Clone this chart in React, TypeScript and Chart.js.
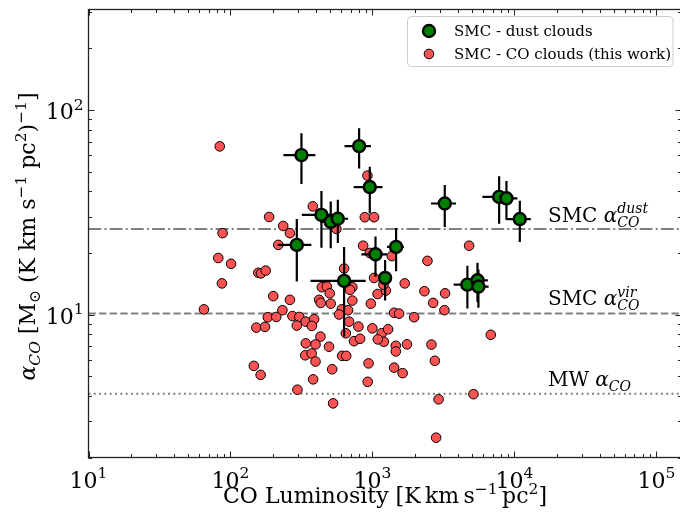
import React, { useEffect, useRef } from 'react';
import { Chart, registerables } from 'chart.js';

Chart.register(...registerables);

// ---- CO clouds (this work): CO luminosity [K km s^-1 pc^2] and alpha_CO
const coLuminosity = [
  84, 921, 380, 187, 883, 1026, 235, 262, 88, 557,
  217, 859, 82, 101, 157, 164, 177, 87, 631, 957,
  1368, 2438, 1687, 2321, 1026, 1086, 1242, 1194, 200, 262,
  421, 440, 477, 500, 721, 694, 721, 432, 508, 608,
  582, 673, 973, 1420, 1539, 1964, 2673, 3245, 3210, 998,
  1162, 1202, 1288, 1090, 1459, 1459, 1750, 2601, 2748, 430,
  339, 397, 494, 336, 373, 397, 611, 653, 938, 1420,
  1630, 520, 382, 925, 146, 163, 296, 528, 2920, 2807,
  65, 232, 183, 210, 152, 175, 273, 305, 339, 388,
  293, 374, 684, 649, 796, 741, 818, 4791, 6808, 5139,
];
const coAlpha = [
  66.4, 47.8, 33.8, 30.0, 29.9, 29.9, 27.1, 25.0, 25.0, 26.2,
  21.9, 21.7, 18.9, 17.7, 16.0, 15.9, 16.4, 14.2, 16.8, 20.0,
  19.3, 18.3, 14.2, 13.0, 15.1, 12.6, 13.1, 14.0, 12.3, 11.8,
  11.8, 13.6, 13.7, 12.7, 13.6, 13.2, 11.7, 11.4, 11.3, 10.6,
  10.0, 10.5, 11.3, 10.2, 10.1, 9.70, 11.4, 12.7, 10.5, 8.56,
  8.10, 7.36, 8.47, 7.56, 7.03, 6.60, 7.15, 7.13, 5.94, 7.80,
  7.23, 7.14, 6.96, 6.32, 6.45, 5.89, 6.28, 6.28, 5.77, 5.50,
  5.17, 5.40, 4.82, 4.69, 5.61, 5.07, 4.29, 3.68, 3.85, 2.50,
  10.6, 10.5, 9.70, 9.73, 8.63, 8.70, 9.83, 9.73, 9.23, 9.49,
  8.83, 8.80, 9.23, 8.10, 8.73, 7.41, 7.61, 21.7, 7.96, 4.08,
];

// ---- SMC dust clouds with (linear, symmetric) errors
const dustLuminosity = [316, 805, 957, 437, 508, 570, 293, 1050, 1466, 1227, 631, 3228, 7796, 8776, 10900, 4659, 5487, 5571];
const dustLuminosityErr = [80, 170, 220, 119, 80, 103, 78, 215, 200, 130, 265, 645, 1850, 1700, 2130, 930, 1000, 1000];
const dustAlpha = [60.2, 66.6, 42.0, 30.7, 28.4, 29.4, 21.9, 19.7, 21.4, 15.1, 14.6, 34.9, 37.6, 37.0, 29.3, 14.0, 14.7, 13.7];
const dustAlphaErr = [16.7, 14.8, 10.8, 9.5, 7.3, 7.0, 7.4, 4.4, 5.1, 3.4, 6.8, 8.1, 9.8, 8.0, 6.7, 3.3, 3.2, 2.9];

// ---- reference alpha_CO levels: SMC dust, SMC virial, Milky Way
const refAlpha = [26.2, 10.12, 4.1];
const refLabelAlpha = [28.4, 11.1, 4.45];
const refLabelLum = 1.72e4;
const refLabelName = ['SMC ', 'SMC ', 'MW '];
const refLabelSup = ['dust', 'vir', ''];

const legendLabels = ['SMC - dust clouds', 'SMC - CO clouds (this work)'];
const xTickValues = [10, 100, 1000, 10000, 100000];
const yTickValues = [10, 100];
const X_MIN = 10;
const X_MAX = 1.5e5;
const Y_MIN = 2;
const Y_MAX = 310;

const SERIF = "'DejaVu Serif', serif";
const RED = '#ff5252';
const GREEN = '#008000';
const GREY = '#808080';

type Seg = { t: string; size: number; italic?: boolean; dy?: number; stack?: Seg };

function segFont(s: Seg) {
  return `${s.italic ? 'italic ' : ''}${s.size}px ${SERIF}`;
}
function segsWidth(ctx: CanvasRenderingContext2D, segs: Seg[]) {
  let w = 0;
  for (const s of segs) {
    ctx.font = segFont(s);
    let sw = ctx.measureText(s.t).width;
    if (s.stack) {
      ctx.font = segFont(s.stack);
      sw = Math.max(sw, ctx.measureText(s.stack.t).width);
    }
    w += sw;
  }
  return w;
}
function drawRich(ctx: CanvasRenderingContext2D, x: number, y: number, segs: Seg[], align: 'left' | 'center' | 'right') {
  const w = segsWidth(ctx, segs);
  let cx = align === 'center' ? x - w / 2 : align === 'right' ? x - w : x;
  ctx.textAlign = 'left';
  ctx.textBaseline = 'alphabetic';
  for (const s of segs) {
    ctx.font = segFont(s);
    ctx.fillText(s.t, cx, y + (s.dy || 0));
    let sw = ctx.measureText(s.t).width;
    if (s.stack) {
      ctx.font = segFont(s.stack);
      ctx.fillText(s.stack.t, cx, y + (s.stack.dy || 0));
      sw = Math.max(sw, ctx.measureText(s.stack.t).width);
    }
    cx += sw;
  }
}
function powLabel(v: number): Seg[] {
  return [
    { t: '10', size: 22 },
    { t: String(Math.round(Math.log10(v))), size: 15.5, dy: -9.5 },
  ];
}

const errorBarPlugin = {
  id: 'errorBars',
  beforeDatasetDraw(chart: any, args: any) {
    if (args.index !== 0) return;
    const { ctx, chartArea: a, scales } = chart;
    const xs = scales.x;
    const ys = scales.y;
    ctx.save();
    ctx.beginPath();
    ctx.rect(a.left, a.top, a.right - a.left, a.bottom - a.top);
    ctx.clip();
    ctx.strokeStyle = '#000';
    ctx.lineWidth = 2.2;
    ctx.lineCap = 'butt';
    for (let i = 0; i < dustLuminosity.length; i++) {
      const px = xs.getPixelForValue(dustLuminosity[i]);
      const py = ys.getPixelForValue(dustAlpha[i]);
      const x0 = xs.getPixelForValue(dustLuminosity[i] - dustLuminosityErr[i]);
      const x1 = xs.getPixelForValue(dustLuminosity[i] + dustLuminosityErr[i]);
      const y0 = ys.getPixelForValue(dustAlpha[i] - dustAlphaErr[i]);
      const y1 = ys.getPixelForValue(dustAlpha[i] + dustAlphaErr[i]);
      ctx.beginPath();
      ctx.moveTo(x0, py);
      ctx.lineTo(x1, py);
      ctx.moveTo(px, y0);
      ctx.lineTo(px, y1);
      ctx.stroke();
    }
    ctx.restore();
  },
};

const decorPlugin = {
  id: 'decor',
  afterDatasetsDraw(chart: any) {
    const { ctx, chartArea: a, scales } = chart;
    const xs = scales.x;
    const ys = scales.y;
    ctx.save();
    // reference labels
    ctx.fillStyle = '#000';
    for (let i = 0; i < refAlpha.length; i++) {
      const lx = xs.getPixelForValue(refLabelLum);
      const ly = ys.getPixelForValue(refLabelAlpha[i]);
      const segs: Seg[] = [
        { t: refLabelName[i], size: 20 },
        { t: '\u03B1', size: 20, italic: true },
      ];
      if (refLabelSup[i]) {
        segs.push({ t: refLabelSup[i], size: 14, italic: true, dy: -8.5, stack: { t: 'CO', size: 14, italic: true, dy: 5 } });
      } else {
        segs.push({ t: 'CO', size: 14, italic: true, dy: 4.5 });
      }
      drawRich(ctx, lx, ly, segs, 'left');
    }

    // frame and inward ticks
    ctx.strokeStyle = '#222';
    ctx.lineWidth = 1.3;
    ctx.strokeRect(a.left, a.top, a.right - a.left, a.bottom - a.top);
    ctx.lineWidth = 1;
    ctx.beginPath();
    for (let d = 1; d <= 5; d++) {
      for (let m = 1; m <= 9; m++) {
        const v = m * Math.pow(10, d);
        if (v < X_MIN || v > X_MAX) continue;
        const px = Math.round(xs.getPixelForValue(v)) + 0.5;
        const len = m === 1 ? 6 : 3.5;
        ctx.moveTo(px, a.bottom);
        ctx.lineTo(px, a.bottom - len);
        ctx.moveTo(px, a.top);
        ctx.lineTo(px, a.top + len);
      }
    }
    for (let d = 0; d <= 2; d++) {
      for (let m = 1; m <= 9; m++) {
        const v = m * Math.pow(10, d);
        if (v < Y_MIN || v > Y_MAX) continue;
        const py = Math.round(ys.getPixelForValue(v)) + 0.5;
        const len = m === 1 ? 6 : 3.5;
        ctx.moveTo(a.left, py);
        ctx.lineTo(a.left + len, py);
        ctx.moveTo(a.right, py);
        ctx.lineTo(a.right - len, py);
      }
    }
    ctx.stroke();

    // tick labels
    ctx.fillStyle = '#000';
    for (const v of xTickValues) {
      drawRich(ctx, xs.getPixelForValue(v), a.bottom + 30, powLabel(v), 'center');
    }
    for (const v of yTickValues) {
      drawRich(ctx, a.left - 5, ys.getPixelForValue(v) + 9, powLabel(v), 'right');
    }

    // axis titles
    drawRich(ctx, (a.left + a.right) / 2, 503, [
      { t: 'CO Luminosity [K\u2009km\u2009s', size: 22 },
      { t: '\u22121', size: 15.5, dy: -9.5 },
      { t: '\u2009pc', size: 22 },
      { t: '2', size: 15.5, dy: -9.5 },
      { t: ']', size: 22 },
    ], 'center');

    ctx.save();
    ctx.translate(35, (a.top + a.bottom) / 2 + 3);
    ctx.rotate(-Math.PI / 2);
    drawRich(ctx, 0, 0, [
      { t: '\u03B1', size: 22, italic: true },
      { t: 'CO', size: 15.5, italic: true, dy: 5 },
      { t: ' [M', size: 22 },
      { t: '\u2299', size: 15.5, dy: 5 },
      { t: ' (K km s', size: 22 },
      { t: '\u22121', size: 15.5, dy: -9.5 },
      { t: ' pc', size: 22 },
      { t: '2', size: 15.5, dy: -9.5 },
      { t: ')', size: 22 },
      { t: '\u22121', size: 15.5, dy: -9.5 },
      { t: ']', size: 22 },
    ], 'center');
    ctx.restore();
    ctx.restore();
  },
  afterDraw(chart: any) {
    const { ctx } = chart;
    ctx.save();
    // legend box
    const bx = 407.5, by = 16.5, bw = 265.5, bh = 50, r = 4;
    ctx.beginPath();
    ctx.moveTo(bx + r, by);
    ctx.arcTo(bx + bw, by, bx + bw, by + bh, r);
    ctx.arcTo(bx + bw, by + bh, bx, by + bh, r);
    ctx.arcTo(bx, by + bh, bx, by, r);
    ctx.arcTo(bx, by, bx + bw, by, r);
    ctx.closePath();
    ctx.fillStyle = 'rgba(255,255,255,0.85)';
    ctx.fill();
    ctx.strokeStyle = '#cccccc';
    ctx.lineWidth = 1;
    ctx.stroke();
    const rows = [
      { c: GREEN, r: 6, w: 2.4, y: 31 },
      { c: RED, r: 4.8, w: 1, y: 54 },
    ];
    rows.forEach((row, i) => {
      ctx.beginPath();
      ctx.arc(429, row.y, row.r, 0, Math.PI * 2);
      ctx.fillStyle = row.c;
      ctx.fill();
      ctx.lineWidth = row.w;
      ctx.strokeStyle = '#000';
      ctx.stroke();
      ctx.fillStyle = '#000';
      ctx.font = `15px ${SERIF}`;
      ctx.textAlign = 'left';
      ctx.textBaseline = 'middle';
      ctx.fillText(legendLabels[i], 454, row.y + 1);
    });
    ctx.restore();
  },
};

export default function App() {
  const ref = useRef<HTMLCanvasElement | null>(null);
  useEffect(() => {
    if (!ref.current) return;
    const dustPoints = dustLuminosity.map((x, i) => ({ x, y: dustAlpha[i] }));
    const coPoints = coLuminosity.map((x, i) => ({ x, y: coAlpha[i] }));
    const refLine = (v: number) => [{ x: X_MIN, y: v }, { x: X_MAX, y: v }];
    const chart = new Chart(ref.current, {
      type: 'scatter',
      data: {
        datasets: [
          {
            label: legendLabels[0],
            data: dustPoints,
            backgroundColor: GREEN,
            borderColor: '#000',
            borderWidth: 2.4,
            pointRadius: 6,
          },
          {
            label: legendLabels[1],
            data: coPoints,
            backgroundColor: RED,
            borderColor: '#000',
            borderWidth: 1,
            pointRadius: 4.8,
          },
          {
            type: 'line',
            label: 'SMC dust',
            data: refLine(refAlpha[0]),
            borderColor: GREY,
            borderWidth: 2,
            borderDash: [12.8, 3.2, 2, 3.2],
            pointRadius: 0,
            showLine: true,
          },
          {
            type: 'line',
            label: 'SMC vir',
            data: refLine(refAlpha[1]),
            borderColor: GREY,
            borderWidth: 2,
            borderDash: [7.4, 3.2],
            pointRadius: 0,
            showLine: true,
          },
          {
            type: 'line',
            label: 'MW',
            data: refLine(refAlpha[2]),
            borderColor: GREY,
            borderWidth: 2,
            borderDash: [2, 3.3],
            pointRadius: 0,
            showLine: true,
          },
        ] as any,
      },
      options: {
        animation: false,
        responsive: false,
        devicePixelRatio: 1,
        events: [],
        layout: { autoPadding: false, padding: { top: 9.5, right: 0.5, left: 88.5, bottom: 55.5 } },
        plugins: { legend: { display: false }, tooltip: { enabled: false } },
        scales: {
          x: { type: 'logarithmic', min: X_MIN, max: X_MAX, display: false },
          y: { type: 'logarithmic', min: Y_MIN, max: Y_MAX, display: false },
        },
      } as any,
      plugins: [errorBarPlugin, decorPlugin],
    });
    return () => chart.destroy();
  }, []);
  return (
    <div style={{ position: 'absolute', left: 0, top: 0, width: 680, height: 513, overflow: 'hidden', background: '#fff' }}>
      <canvas ref={ref} width={682} height={513} style={{ display: 'block' }} />
    </div>
  );
}
